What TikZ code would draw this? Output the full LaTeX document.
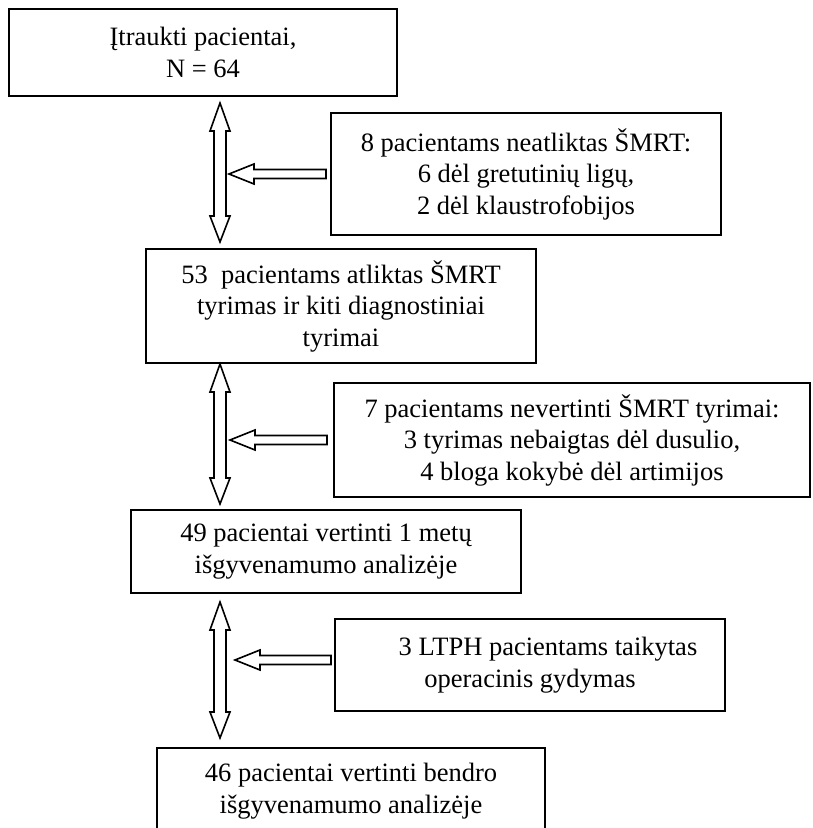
\documentclass[tikz,border=0pt]{standalone}
\usepackage{fontspec}
\setmainfont{Liberation Serif}
\usetikzlibrary{calc}
\tikzset{
  box/.style={draw=black, line width=1.8pt, fill=white, inner sep=0pt, outer sep=0pt, align=center,
    font=\fontsize{26.5}{31.5}\selectfont},
  blockarrow/.style={draw=black, line width=1.6pt, fill=white, line join=miter},
}
\newcommand\vdarrow[2]{\draw[blockarrow] let \p1=(#1), \p2=(#2) in
  (\x1,\y1) -- (\x1+10pt,\y1-28pt) -- (\x1+6pt,\y1-28pt) -- (\x1+6pt,\y2+26pt)
  -- (\x1+10pt,\y2+26pt) -- (\x2,\y2) -- (\x1-10pt,\y2+26pt) -- (\x1-6pt,\y2+26pt)
  -- (\x1-6pt,\y1-28pt) -- (\x1-10pt,\y1-28pt) -- cycle;}
\newcommand\hlarrow[2]{\draw[blockarrow] let \p1=(#1), \p2=(#2) in
  (\x1,\y1) -- (\x1+25pt,\y1+10pt) -- (\x1+25pt,\y1+4.5pt) -- (\x2,\y1+4.5pt)
  -- (\x2,\y1-4.5pt) -- (\x1+25pt,\y1-4.5pt) -- (\x1+25pt,\y1-10pt) -- cycle;}
\begin{document}
\begin{tikzpicture}[x=1pt,y=-1pt]
\useasboundingbox (0,0) rectangle (812,828);
\fill[white] (0,0) rectangle (812,828);
\begin{scope}
\clip (0,0) rectangle (812,828);
% boxes
\node[box, minimum width=388pt, minimum height=87pt] (b1) at (203,52.5)
  {Įtraukti pacientai,\\N = 64};
\node[box, minimum width=390pt, minimum height=122pt] (b2) at (526,174)
  {8 pacientams neatliktas ŠMRT:\\6 dėl gretutinių ligų,\\2 dėl klaustrofobijos};
\node[box, minimum width=390pt, minimum height=114pt] (b3) at (341,306)
  {53\ \ pacientams atliktas ŠMRT\\tyrimas ir kiti diagnostiniai\\tyrimai};
\node[box, minimum width=476pt, minimum height=114pt] (b4) at (572,440)
  {7 pacientams nevertinti ŠMRT tyrimai:\\3 tyrimas nebaigtas dėl dusulio,\\4 bloga kokybė dėl artimijos};
\node[box, minimum width=390pt, minimum height=83pt] (b5) at (326,551.5)
  {49 pacientai vertinti 1 metų\\išgyvenamumo analizėje};
\node[box, minimum width=390pt, minimum height=92pt] (b6) at (530,665)
  {\hspace*{36pt}3 LTPH pacientams taikytas\\operacinis gydymas};
\node[box, minimum width=388pt, minimum height=86pt] (b7) at (351,791)
  {46 pacientai vertinti bendro\\išgyvenamumo analizėje};
\end{scope}
% arrow end points
\coordinate (v1t) at (220,103);
\coordinate (v1b) at (220,242);
\coordinate (v2t) at (220,364);
\coordinate (v2b) at (220,504);
\coordinate (v3t) at (220,602);
\coordinate (v3b) at (220,738);
\coordinate (h1tip) at (229,174);
\coordinate (h1tail) at (326,174);
\coordinate (h2tip) at (230,440);
\coordinate (h2tail) at (327,440);
\coordinate (h3tip) at (235,660);
\coordinate (h3tail) at (331,660);
\vdarrow{v1t}{v1b}
\vdarrow{v2t}{v2b}
\vdarrow{v3t}{v3b}
\hlarrow{h1tip}{h1tail}
\hlarrow{h2tip}{h2tail}
\hlarrow{h3tip}{h3tail}
\end{tikzpicture}
\end{document}
